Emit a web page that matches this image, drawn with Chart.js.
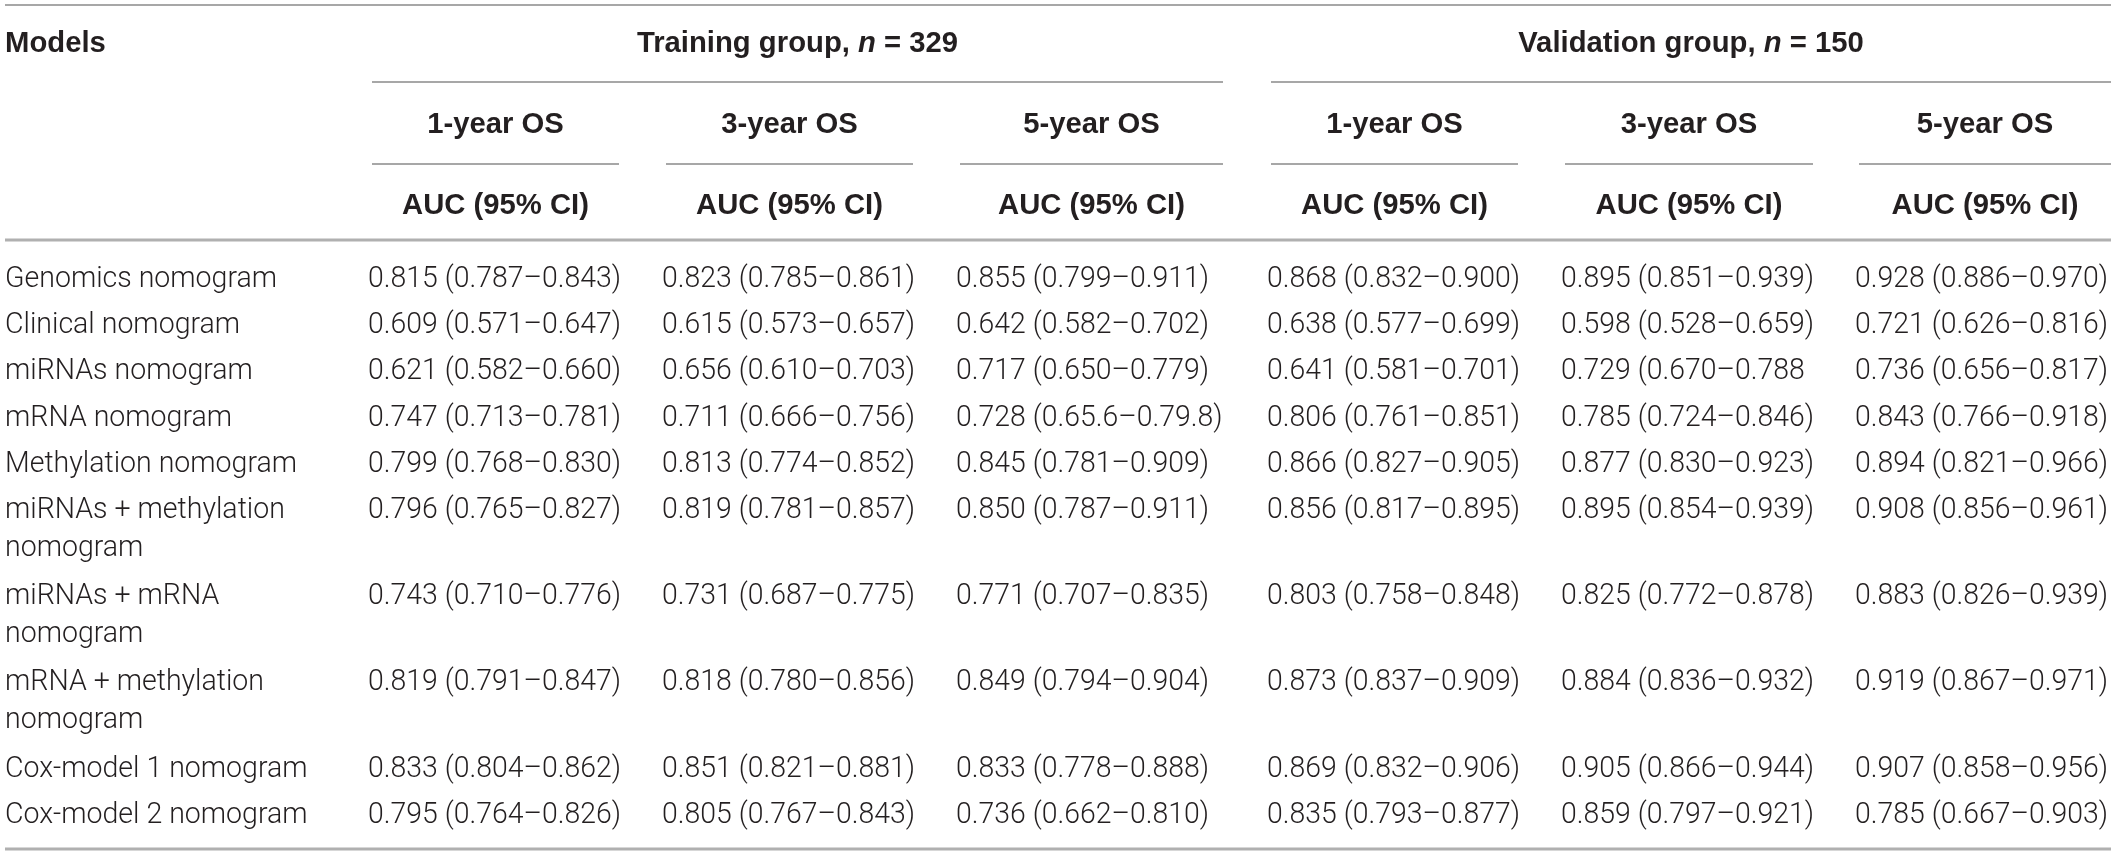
<!DOCTYPE html>
<html>
<head>
<meta charset="utf-8">
<script src="https://cdn.jsdelivr.net/npm/chart.js@4.4.1/dist/chart.umd.min.js"></script>
<style>
  html, body { margin: 0; padding: 0; background: #ffffff; }
  #wrap { width: 2117px; height: 854px; }
</style>
</head>
<body>
<div id="wrap"><canvas id="c" width="2117" height="854"></canvas></div>
<script>
// ---------------- DATA ----------------
const firstHeader = "Models";
const groupNames = ["Training group", "Validation group"];
const groupN = [329, 150];
const horizons = ["1-year OS", "3-year OS", "5-year OS"];
const metricLabel = "AUC (95% CI)";

const models = [
  "Genomics nomogram",
  "Clinical nomogram",
  "miRNAs nomogram",
  "mRNA nomogram",
  "Methylation nomogram",
  "miRNAs + methylation\nnomogram",
  "miRNAs + mRNA\nnomogram",
  "mRNA + methylation\nnomogram",
  "Cox-model 1 nomogram",
  "Cox-model 2 nomogram"
];

const train1y = ["0.815 (0.787–0.843)","0.609 (0.571–0.647)","0.621 (0.582–0.660)","0.747 (0.713–0.781)","0.799 (0.768–0.830)","0.796 (0.765–0.827)","0.743 (0.710–0.776)","0.819 (0.791–0.847)","0.833 (0.804–0.862)","0.795 (0.764–0.826)"];
const train3y = ["0.823 (0.785–0.861)","0.615 (0.573–0.657)","0.656 (0.610–0.703)","0.711 (0.666–0.756)","0.813 (0.774–0.852)","0.819 (0.781–0.857)","0.731 (0.687–0.775)","0.818 (0.780–0.856)","0.851 (0.821–0.881)","0.805 (0.767–0.843)"];
const train5y = ["0.855 (0.799–0.911)","0.642 (0.582–0.702)","0.717 (0.650–0.779)","0.728 (0.65.6–0.79.8)","0.845 (0.781–0.909)","0.850 (0.787–0.911)","0.771 (0.707–0.835)","0.849 (0.794–0.904)","0.833 (0.778–0.888)","0.736 (0.662–0.810)"];
const valid1y = ["0.868 (0.832–0.900)","0.638 (0.577–0.699)","0.641 (0.581–0.701)","0.806 (0.761–0.851)","0.866 (0.827–0.905)","0.856 (0.817–0.895)","0.803 (0.758–0.848)","0.873 (0.837–0.909)","0.869 (0.832–0.906)","0.835 (0.793–0.877)"];
const valid3y = ["0.895 (0.851–0.939)","0.598 (0.528–0.659)","0.729 (0.670–0.788","0.785 (0.724–0.846)","0.877 (0.830–0.923)","0.895 (0.854–0.939)","0.825 (0.772–0.878)","0.884 (0.836–0.932)","0.905 (0.866–0.944)","0.859 (0.797–0.921)"];
const valid5y = ["0.928 (0.886–0.970)","0.721 (0.626–0.816)","0.736 (0.656–0.817)","0.843 (0.766–0.918)","0.894 (0.821–0.966)","0.908 (0.856–0.961)","0.883 (0.826–0.939)","0.919 (0.867–0.971)","0.907 (0.858–0.956)","0.785 (0.667–0.903)"];

const valueColumns = [train1y, train3y, train5y, valid1y, valid3y, valid5y];

// ---------------- LAYOUT (positions / sizes / styles) ----------------
const L = {
  width: 2117, height: 854,
  tableLeft: 5, tableRight: 2111,
  colLeft:  [372, 666, 960, 1271, 1565, 1859],
  colRight: [619, 913, 1223, 1518, 1813, 2111],
  textInset: -4,
  yTop: 5, yGroup: 82, ySub: 164, yHead: 240, yBottom: 849,
  baseH1: 52, baseH2: 133, baseH3: 214,
  bodyFirstBase: 287, rowPitch: 46.2, wrapOffset: 37.5, wrapExtra: 40,
  labelX: 5,
  bodyFont: '300 29px Roboto, "Liberation Sans", Arial, sans-serif',
  boldFont: '700 29px "Liberation Sans", Arial, sans-serif',
  boldItalicFont: 'italic 700 29px "Liberation Sans", Arial, sans-serif',
  textColor: '#231f20',
  thinLine: { w: 1.5, c: '#8a8a8a' },
  thickLine: { w: 3, c: '#b0b0b0' },
  targetDataW: 253, targetLabelW: 272, targetBoldW: 187
};

// row baselines from label line counts
const rowBase = [];
(function () {
  let y = L.bodyFirstBase;
  models.forEach(m => {
    rowBase.push(y);
    const lines = m.split('\n').length;
    y += L.rowPitch + (lines - 1) * L.wrapExtra;
  });
})();

// width calibration
const mctx = document.createElement('canvas').getContext('2d');
function measure(font, s) { mctx.font = font; return mctx.measureText(s).width; }
function clampS(v) { return Math.max(0.8, Math.min(1.2, v)); }
const sxData = clampS(L.targetDataW / measure(L.bodyFont, "0.815 (0.787–0.843)"));
const sxLabel = clampS(L.targetLabelW / measure(L.bodyFont, "Genomics nomogram"));
const sxBold = clampS(L.targetBoldW / measure(L.boldFont, metricLabel));

function drawText(ctx, text, x, y, font, align, sx) {
  ctx.save();
  ctx.font = font;
  ctx.fillStyle = L.textColor;
  ctx.textBaseline = 'alphabetic';
  ctx.textAlign = 'left';
  const w = ctx.measureText(text).width * sx;
  let x0 = x;
  if (align === 'center') x0 = x - w / 2;
  else if (align === 'right') x0 = x - w;
  ctx.translate(x0, y);
  ctx.scale(sx, 1);
  ctx.fillText(text, 0, 0);
  ctx.restore();
  return w;
}

// datasets: one per value column (+ one for model labels); points placed via scales
const datasets = [];
datasets.push({
  label: firstHeader,
  texts: models,
  kind: 'label',
  data: models.map((m, i) => ({ x: L.labelX, y: rowBase[i] })),
  pointRadius: 0, showLine: false
});
valueColumns.forEach((col, c) => {
  datasets.push({
    label: (c < 3 ? groupNames[0] : groupNames[1]) + ' ' + horizons[c % 3],
    texts: col,
    kind: 'value',
    data: col.map((v, i) => ({ x: L.colLeft[c] + L.textInset, y: rowBase[i] })),
    pointRadius: 0, showLine: false
  });
});

const tablePlugin = {
  id: 'tablePlugin',
  afterDatasetsDraw(chart) {
    const ctx = chart.ctx;
    const xs = chart.scales.x, ys = chart.scales.y;
    const X = v => xs.getPixelForValue(v);
    const Y = v => ys.getPixelForValue(v);

    function hline(x1, x2, y, st) {
      ctx.save();
      ctx.strokeStyle = st.c; ctx.lineWidth = st.w;
      ctx.beginPath(); ctx.moveTo(X(x1), Y(y)); ctx.lineTo(X(x2), Y(y)); ctx.stroke();
      ctx.restore();
    }
    // rules
    hline(L.tableLeft, L.tableRight, L.yTop, L.thinLine);
    hline(L.colLeft[0], L.colRight[2], L.yGroup, L.thinLine);
    hline(L.colLeft[3], L.colRight[5], L.yGroup, L.thinLine);
    for (let c = 0; c < 6; c++) hline(L.colLeft[c], L.colRight[c], L.ySub, L.thinLine);
    hline(L.tableLeft, L.tableRight, L.yHead, L.thickLine);
    hline(L.tableLeft, L.tableRight, L.yBottom, L.thickLine);

    // header texts
    drawText(ctx, firstHeader, X(L.labelX), Y(L.baseH1), L.boldFont, 'left', sxBold);
    groupNames.forEach((g, gi) => {
      const cx = X((L.colLeft[gi * 3] + L.colRight[gi * 3 + 2]) / 2);
      const parts = [
        [g + ', ', L.boldFont],
        ['n', L.boldItalicFont],
        [' = ' + groupN[gi], L.boldFont]
      ];
      const total = parts.reduce((s, p) => s + measure(p[1], p[0]) * sxBold, 0);
      let x = cx - total / 2;
      parts.forEach(p => { x += drawText(ctx, p[0], x, Y(L.baseH1), p[1], 'left', sxBold); });
    });
    for (let c = 0; c < 6; c++) {
      const cx = X((L.colLeft[c] + L.colRight[c]) / 2);
      drawText(ctx, horizons[c % 3], cx, Y(L.baseH2), L.boldFont, 'center', sxBold);
      drawText(ctx, metricLabel, cx, Y(L.baseH3), L.boldFont, 'center', sxBold);
    }

    // body cells, positioned at the dataset elements
    chart.data.datasets.forEach((ds, di) => {
      const meta = chart.getDatasetMeta(di);
      meta.data.forEach((el, i) => {
        const lines = String(ds.texts[i]).split('\n');
        const sx = ds.kind === 'label' ? sxLabel : sxData;
        lines.forEach((ln, li) => {
          const yy = el.y + (Y(L.wrapOffset) - Y(0)) * li;
          drawText(ctx, ln, el.x, yy, L.bodyFont, 'left', sx);
        });
      });
    });
  }
};

new Chart(document.getElementById('c'), {
  type: 'scatter',
  data: { datasets },
  options: {
    responsive: false,
    devicePixelRatio: 1,
    animation: false,
    layout: { padding: 0 },
    plugins: { legend: { display: false }, tooltip: { enabled: false } },
    events: [],
    scales: {
      x: { type: 'linear', min: 0, max: L.width, display: false },
      y: { type: 'linear', min: 0, max: L.height, reverse: true, display: false }
    }
  },
  plugins: [tablePlugin]
});
</script>
</body>
</html>
